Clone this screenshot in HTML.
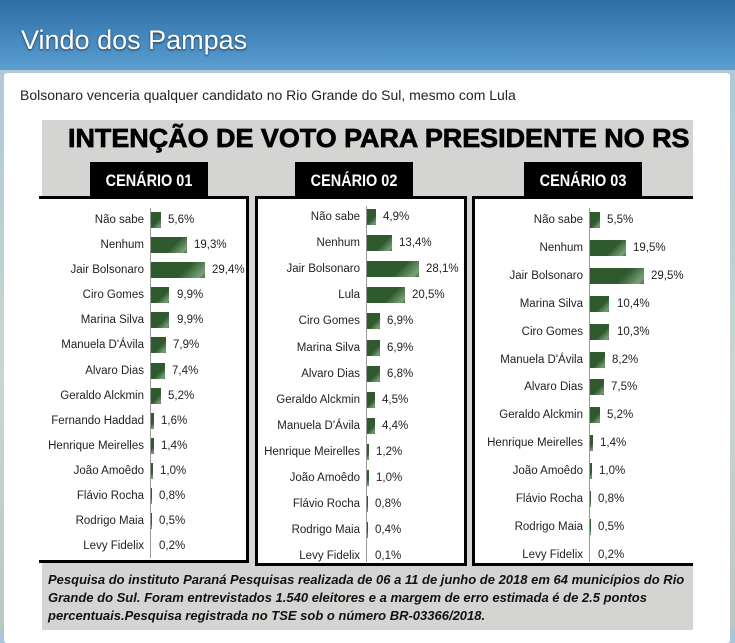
<!DOCTYPE html>
<html><head><meta charset="utf-8"><style>
*{margin:0;padding:0;box-sizing:border-box}
body{width:735px;height:630px;overflow:hidden;position:relative;font-family:"Liberation Sans",sans-serif;background:linear-gradient(#a9c6d8,#c8d6d0 60%,#b9c8c0)}
#hdr{position:absolute;left:0;top:0;width:735px;height:70px;background:linear-gradient(180deg,#2f6fa6,#4b90c4 70%,#5c9fd0)}
#hdr h1{position:absolute;left:21px;top:25px;font-weight:normal;font-size:27px;color:#fff;text-shadow:0 1px 2px #234}
#card{position:absolute;left:4px;top:73px;width:726px;height:570px;background:#fff;border-radius:3px}
#sub{position:absolute;left:20px;top:87px;font-size:14px;color:#222}
#img{position:absolute;left:42px;top:120px;width:651px;height:510px;background:#d4d4d2;overflow:hidden}
#title{position:absolute;left:68px;top:123px;font-size:26px;font-weight:bold;color:#000;transform:scaleX(1.035);transform-origin:left;white-space:nowrap;-webkit-text-stroke:0.7px #000}
.tab{position:absolute;top:162px;height:37px;width:118px;background:#000;color:#fff;font-size:17px;font-weight:bold;text-align:center;line-height:38px;white-space:nowrap}
.tab span{display:block;margin:0 -25px;transform:scaleX(0.85)}
.pan{position:absolute;background:#fff;border:3px solid #000}
.r{position:absolute;height:16px;font-size:11.5px;color:#222}
.r .l{position:absolute;right:100%;margin-right:7px;white-space:nowrap;line-height:16px}
.r .b{position:absolute;left:0;top:0;height:16px;background:linear-gradient(135deg,#2f5a2e 60%,#7aa07a 90%,#3d6a3c)}
.r .v{position:absolute;white-space:nowrap;line-height:16px}
.ax{position:absolute;width:1px;background:#999}
#foot{position:absolute;left:48px;top:571px;font-size:13px;font-style:italic;font-weight:bold;color:#111;line-height:18px}
#foot div{white-space:nowrap}
</style></head><body>
<div id="hdr"><h1>Vindo dos Pampas</h1></div>
<div id="card"></div>
<div id="sub">Bolsonaro venceria qualquer candidato no Rio Grande do Sul, mesmo com Lula</div>
<div id="img"></div>
<div id="title">INTENÇÃO DE VOTO PARA PRESIDENTE NO RS</div>
<div class="pan" style="left:39px;top:196px;width:210px;height:367px;border-left:none"></div>
<div class="pan" style="left:255px;top:196px;width:212px;height:370px"></div>
<div class="pan" style="left:472px;top:196px;width:221px;height:370px;border-right:none"></div>
<div class="tab" style="left:90px"><span>CENÁRIO 01</span></div>
<div class="tab" style="left:295px"><span>CENÁRIO 02</span></div>
<div class="tab" style="left:524px"><span>CENÁRIO 03</span></div>
<div class="ax" style="left:150px;top:208px;height:350px"></div>
<div class="ax" style="left:366px;top:206px;height:356px"></div>
<div class="ax" style="left:589px;top:208px;height:354px"></div>

<div class="r" style="left:151px;top:212px"><span class="l">Não sabe</span><span class="b" style="width:10px"></span><span class="v" style="left:17px">5,6%</span></div>
<div class="r" style="left:151px;top:237px"><span class="l">Nenhum</span><span class="b" style="width:36px"></span><span class="v" style="left:43px">19,3%</span></div>
<div class="r" style="left:151px;top:262px"><span class="l">Jair Bolsonaro</span><span class="b" style="width:54px"></span><span class="v" style="left:61px">29,4%</span></div>
<div class="r" style="left:151px;top:287px"><span class="l">Ciro Gomes</span><span class="b" style="width:18px"></span><span class="v" style="left:26px">9,9%</span></div>
<div class="r" style="left:151px;top:312px"><span class="l">Marina Silva</span><span class="b" style="width:18px"></span><span class="v" style="left:26px">9,9%</span></div>
<div class="r" style="left:151px;top:337px"><span class="l">Manuela D'Ávila</span><span class="b" style="width:15px"></span><span class="v" style="left:22px">7,9%</span></div>
<div class="r" style="left:151px;top:363px"><span class="l">Alvaro Dias</span><span class="b" style="width:14px"></span><span class="v" style="left:21px">7,4%</span></div>
<div class="r" style="left:151px;top:388px"><span class="l">Geraldo Alckmin</span><span class="b" style="width:10px"></span><span class="v" style="left:17px">5,2%</span></div>
<div class="r" style="left:151px;top:413px"><span class="l">Fernando Haddad</span><span class="b" style="width:3px"></span><span class="v" style="left:10px">1,6%</span></div>
<div class="r" style="left:151px;top:438px"><span class="l">Henrique Meirelles</span><span class="b" style="width:3px"></span><span class="v" style="left:10px">1,4%</span></div>
<div class="r" style="left:151px;top:463px"><span class="l">João Amoêdo</span><span class="b" style="width:2px"></span><span class="v" style="left:9px">1,0%</span></div>
<div class="r" style="left:151px;top:488px"><span class="l">Flávio Rocha</span><span class="b" style="width:1px"></span><span class="v" style="left:8px">0,8%</span></div>
<div class="r" style="left:151px;top:513px"><span class="l">Rodrigo Maia</span><span class="b" style="width:1px"></span><span class="v" style="left:8px">0,5%</span></div>
<div class="r" style="left:151px;top:538px"><span class="l">Levy Fidelix</span><span class="b" style="width:0px"></span><span class="v" style="left:8px">0,2%</span></div>

<div class="r" style="left:367px;top:209px"><span class="l">Não sabe</span><span class="b" style="width:9px"></span><span class="v" style="left:16px">4,9%</span></div>
<div class="r" style="left:367px;top:235px"><span class="l">Nenhum</span><span class="b" style="width:25px"></span><span class="v" style="left:32px">13,4%</span></div>
<div class="r" style="left:367px;top:261px"><span class="l">Jair Bolsonaro</span><span class="b" style="width:52px"></span><span class="v" style="left:59px">28,1%</span></div>
<div class="r" style="left:367px;top:287px"><span class="l">Lula</span><span class="b" style="width:38px"></span><span class="v" style="left:45px">20,5%</span></div>
<div class="r" style="left:367px;top:313px"><span class="l">Ciro Gomes</span><span class="b" style="width:13px"></span><span class="v" style="left:20px">6,9%</span></div>
<div class="r" style="left:367px;top:340px"><span class="l">Marina Silva</span><span class="b" style="width:13px"></span><span class="v" style="left:20px">6,9%</span></div>
<div class="r" style="left:367px;top:366px"><span class="l">Alvaro Dias</span><span class="b" style="width:13px"></span><span class="v" style="left:20px">6,8%</span></div>
<div class="r" style="left:367px;top:392px"><span class="l">Geraldo Alckmin</span><span class="b" style="width:8px"></span><span class="v" style="left:15px">4,5%</span></div>
<div class="r" style="left:367px;top:418px"><span class="l">Manuela D'Ávila</span><span class="b" style="width:8px"></span><span class="v" style="left:15px">4,4%</span></div>
<div class="r" style="left:367px;top:444px"><span class="l">Henrique Meirelles</span><span class="b" style="width:2px"></span><span class="v" style="left:9px">1,2%</span></div>
<div class="r" style="left:367px;top:470px"><span class="l">João Amoêdo</span><span class="b" style="width:2px"></span><span class="v" style="left:9px">1,0%</span></div>
<div class="r" style="left:367px;top:496px"><span class="l">Flávio Rocha</span><span class="b" style="width:1px"></span><span class="v" style="left:8px">0,8%</span></div>
<div class="r" style="left:367px;top:522px"><span class="l">Rodrigo Maia</span><span class="b" style="width:1px"></span><span class="v" style="left:8px">0,4%</span></div>
<div class="r" style="left:367px;top:548px"><span class="l">Levy Fidelix</span><span class="b" style="width:0px"></span><span class="v" style="left:8px">0,1%</span></div>

<div class="r" style="left:590px;top:212px"><span class="l">Não sabe</span><span class="b" style="width:10px"></span><span class="v" style="left:17px">5,5%</span></div>
<div class="r" style="left:590px;top:240px"><span class="l">Nenhum</span><span class="b" style="width:36px"></span><span class="v" style="left:43px">19,5%</span></div>
<div class="r" style="left:590px;top:268px"><span class="l">Jair Bolsonaro</span><span class="b" style="width:54px"></span><span class="v" style="left:61px">29,5%</span></div>
<div class="r" style="left:590px;top:296px"><span class="l">Marina Silva</span><span class="b" style="width:19px"></span><span class="v" style="left:27px">10,4%</span></div>
<div class="r" style="left:590px;top:324px"><span class="l">Ciro Gomes</span><span class="b" style="width:19px"></span><span class="v" style="left:27px">10,3%</span></div>
<div class="r" style="left:590px;top:352px"><span class="l">Manuela D'Ávila</span><span class="b" style="width:15px"></span><span class="v" style="left:22px">8,2%</span></div>
<div class="r" style="left:590px;top:379px"><span class="l">Alvaro Dias</span><span class="b" style="width:14px"></span><span class="v" style="left:21px">7,5%</span></div>
<div class="r" style="left:590px;top:407px"><span class="l">Geraldo Alckmin</span><span class="b" style="width:10px"></span><span class="v" style="left:17px">5,2%</span></div>
<div class="r" style="left:590px;top:435px"><span class="l">Henrique Meirelles</span><span class="b" style="width:3px"></span><span class="v" style="left:10px">1,4%</span></div>
<div class="r" style="left:590px;top:463px"><span class="l">João Amoêdo</span><span class="b" style="width:2px"></span><span class="v" style="left:9px">1,0%</span></div>
<div class="r" style="left:590px;top:491px"><span class="l">Flávio Rocha</span><span class="b" style="width:1px"></span><span class="v" style="left:8px">0,8%</span></div>
<div class="r" style="left:590px;top:519px"><span class="l">Rodrigo Maia</span><span class="b" style="width:1px"></span><span class="v" style="left:8px">0,5%</span></div>
<div class="r" style="left:590px;top:547px"><span class="l">Levy Fidelix</span><span class="b" style="width:0px"></span><span class="v" style="left:8px">0,2%</span></div>

<div id="foot"><div>Pesquisa do instituto Paraná Pesquisas realizada de 06 a 11 de junho de 2018 em 64 municípios do Rio</div><div>Grande do Sul. Foram entrevistados 1.540 eleitores e a margem de erro estimada é de 2.5 pontos</div><div>percentuais.Pesquisa registrada no TSE sob o número BR-03366/2018.</div></div>
</body></html>
